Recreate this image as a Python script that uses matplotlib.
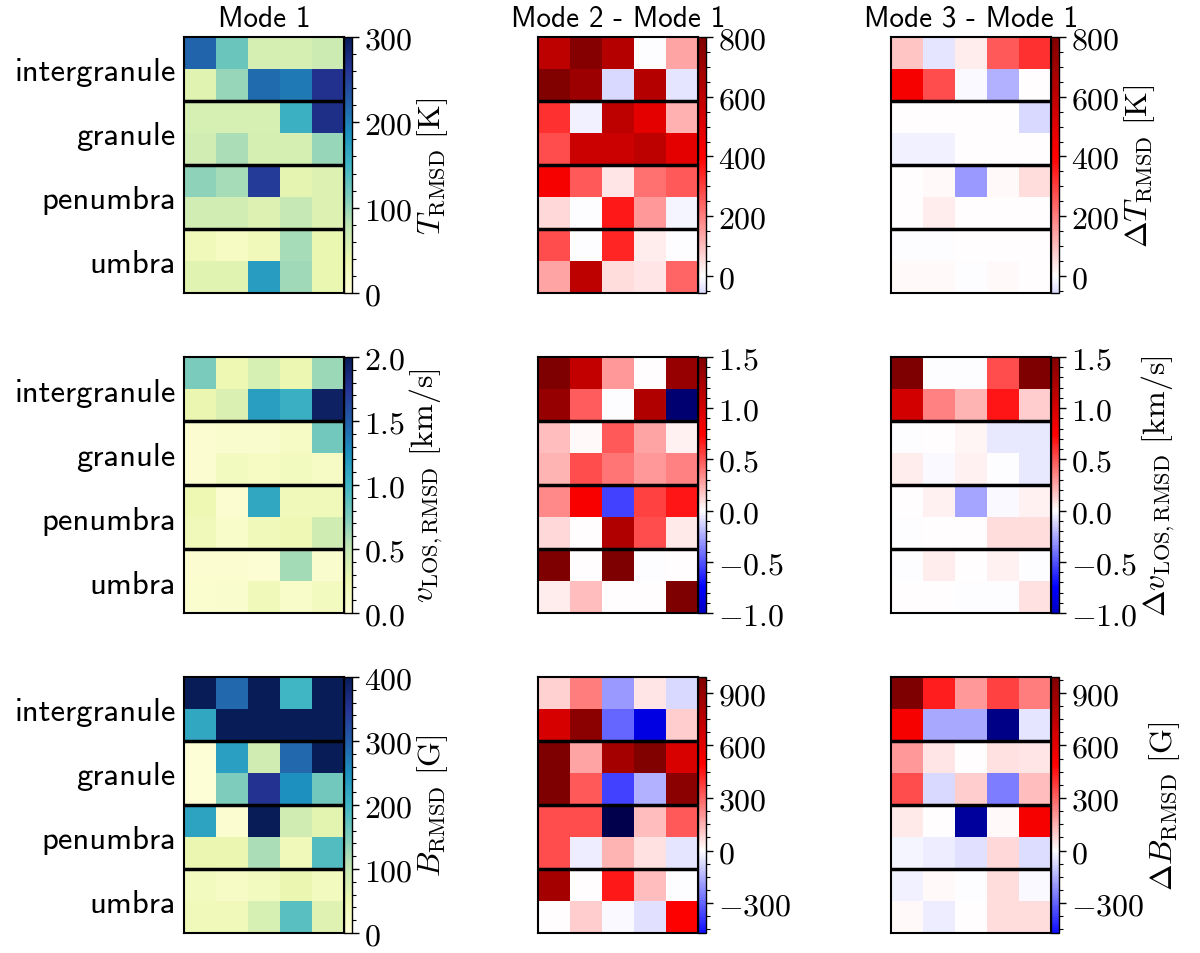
import matplotlib
matplotlib.use('Agg')
import matplotlib.pyplot as plt
import numpy as np
from matplotlib.colors import Normalize
from matplotlib.ticker import AutoMinorLocator, FuncFormatter

plt.rcParams['mathtext.fontset'] = 'cm'
plt.rcParams['font.family'] = 'cmss10'

regions = ['intergranule', 'granule', 'penumbra', 'umbra']
col_titles = ['Mode 1', 'Mode 2 - Mode 1', 'Mode 3 - Mode 1']

# temperature RMSD [K]
t_mode1 = np.array([
    [220, 125, 62, 62, 70],
    [50, 100, 215, 205, 265],
    [60, 60, 60, 155, 270],
    [65, 90, 62, 62, 100],
    [105, 92, 255, 45, 55],
    [65, 65, 55, 75, 55],
    [30, 20, 30, 92, 40],
    [50, 50, 175, 95, 40],
])
t_diff2 = np.array([
    [600, 780, 630, -5, 140],
    [790, 700, -60, 630, -40],
    [320, -20, 600, 480, 120],
    [280, 560, 560, 600, 480],
    [420, 260, 40, 220, 260],
    [60, -5, 360, 160, -15],
    [280, -5, 340, 30, -5],
    [140, 600, 50, 40, 240],
])
t_diff3 = np.array([
    [90, -40, 30, 260, 320],
    [420, 280, -10, -120, 0],
    [2, 2, 2, 2, -60],
    [-25, -20, 2, 2, 0],
    [2, 10, -160, 10, 50],
    [3, 25, 0, 2, 2],
    [-3, -2, 0, 2, 0],
    [8, 8, -3, 8, 2],
])

# LOS velocity RMSD [km/s]
v_mode1 = np.array([
    [0.77, 0.24, 0.40, 0.25, 0.65],
    [0.26, 0.38, 1.16, 1.04, 1.95],
    [0.06, 0.08, 0.08, 0.12, 0.80],
    [0.06, 0.16, 0.14, 0.16, 0.12],
    [0.24, 0.06, 1.10, 0.20, 0.20],
    [0.20, 0.10, 0.20, 0.22, 0.45],
    [0.06, 0.06, 0.04, 0.62, 0.08],
    [0.07, 0.08, 0.20, 0.10, 0.16],
])
v_diff2 = np.array([
    [1.50, 1.10, 0.30, 0.00, 1.35],
    [1.35, 0.48, -0.01, 1.20, -1.34],
    [0.19, 0.02, 0.49, 0.26, 0.04],
    [0.22, 0.52, 0.41, 0.30, 0.37],
    [0.34, 0.78, -0.56, 0.56, 0.68],
    [0.11, 0.00, 1.20, 0.52, 0.06],
    [1.50, 0.00, 1.50, -0.01, 0.01],
    [0.05, 0.19, 0.00, 0.00, 1.50],
])
v_diff3 = np.array([
    [1.50, -0.01, -0.01, 0.52, 1.50],
    [1.00, 0.37, 0.22, 0.68, 0.15],
    [-0.01, 0.01, 0.03, -0.06, -0.06],
    [0.05, -0.02, 0.04, -0.01, -0.06],
    [0.00, 0.04, -0.26, -0.02, 0.04],
    [-0.01, 0.00, 0.00, 0.10, 0.10],
    [-0.01, 0.05, 0.00, 0.04, -0.01],
    [0.00, 0.00, -0.01, -0.01, 0.09],
])

# magnetic field RMSD [G]
b_mode1 = np.array([
    [420, 290, 420, 200, 420],
    [220, 420, 420, 420, 420],
    [5, 230, 88, 290, 400],
    [5, 150, 352, 250, 160],
    [225, 12, 400, 88, 64],
    [52, 52, 120, 40, 185],
    [32, 24, 32, 52, 32],
    [40, 40, 80, 180, 68],
])
b_diff2 = np.array([
    [90, 250, -200, 50, -75],
    [643, 940, -300, -566, 100],
    [990, 175, 840, 980, 640],
    [990, 320, -370, -150, 940],
    [345, 345, -990, 125, 320],
    [345, -35, 140, 60, -50],
    [840, 0, 445, 125, -5],
    [5, 100, -10, -60, 495],
])
b_diff3 = np.array([
    [990, 435, 200, 370, 250],
    [520, -165, -165, -820, -50],
    [200, 50, 0, 60, 50],
    [345, -75, 100, -250, 125],
    [40, 0, -760, 10, 520],
    [-20, -35, -60, 75, -65],
    [-25, 15, -2, 65, -15],
    [15, -35, 5, 65, 65],
])

panels = [
    [t_mode1, t_diff2, t_diff3],
    [v_mode1, v_diff2, v_diff3],
    [b_mode1, b_diff2, b_diff3],
]

mode1_max = [300, 2.0, 400]
diff_max = [800, 1.5, 990]
diff_lims = [(-57, 800), (-1.0, 1.5), (-470, 990)]
mode1_ticks = [[0, 100, 200, 300], [0, 0.5, 1.0, 1.5, 2.0], [0, 100, 200, 300, 400]]
diff_ticks = [[0, 200, 400, 600, 800], [-1.0, -0.5, 0, 0.5, 1.0, 1.5], [-300, 0, 300, 600, 900]]
tick_fmt = ['%d', '%.1f', '%d']
mode1_labels = [r'$T_{\rm RMSD}\ [{\rm K}]$', r'$v_{\rm LOS,RMSD}\ [{\rm km/s}]$', r'$B_{\rm RMSD}\ [{\rm G}]$']
diff_labels = [r'$\Delta T_{\rm RMSD}\ [{\rm K}]$', r'$\Delta v_{\rm LOS,RMSD}\ [{\rm km/s}]$',
               r'$\Delta B_{\rm RMSD}\ [{\rm G}]$']

W, H = 1200, 954
fig = plt.figure(figsize=(12, 9.54), dpi=100)

col_left = [184, 538, 891]
row_top = [38, 358, 678]
ax_w, ax_h, cb_w = 160, 256, 8

for r in range(3):
    fmt = tick_fmt[r]
    for c in range(3):
        x0 = col_left[c] / W
        y0 = 1 - (row_top[r] + ax_h) / H
        ax = fig.add_axes([x0, y0, ax_w / W, ax_h / H])
        cax = fig.add_axes([x0 + ax_w / W, y0, cb_w / W, ax_h / H])
        data = panels[r][c]
        if c == 0:
            im = ax.imshow(data, cmap='YlGnBu', vmin=0, vmax=mode1_max[r],
                           aspect='auto', interpolation='nearest')
            cb = fig.colorbar(im, cax=cax, ticks=mode1_ticks[r])
        else:
            m = diff_max[r]
            im = ax.imshow(data, cmap='seismic', norm=Normalize(-m, m),
                           aspect='auto', interpolation='nearest')
            lo, hi = diff_lims[r]
            cb = fig.colorbar(im, cax=cax, ticks=diff_ticks[r],
                              boundaries=np.linspace(lo, hi, 300))
        for yl in [1.5, 3.5, 5.5]:
            ax.axhline(yl, color='black', lw=2.5)
        for s in ax.spines.values():
            s.set_linewidth(1.5)
        ax.set_xticks([])
        if c == 0:
            ax.set_yticks([0.5, 2.5, 4.5, 6.5])
            ax.set_yticklabels(regions, fontsize=23.5, family='cmss10')
            ax.tick_params(axis='y', length=0, pad=6)
        else:
            ax.set_yticks([])
        if r == 0:
            ax.set_title(col_titles[c], fontsize=21, family='cmss10', pad=8)

        cb.outline.set_linewidth(1.0)
        cb.ax.yaxis.set_major_formatter(FuncFormatter(lambda v, p, f=fmt: ('$' + f + '$') % v))
        cb.ax.yaxis.set_minor_locator(AutoMinorLocator())
        cb.ax.tick_params(which='major', length=5, width=1, labelsize=23)
        cb.ax.tick_params(which='minor', length=3, width=0.8)
        if c == 0:
            cb.set_label(mode1_labels[r], fontsize=23, labelpad=2)
        elif c == 2:
            cb.set_label(diff_labels[r], fontsize=23, labelpad=2)

fig.savefig('out.png', dpi=100)
